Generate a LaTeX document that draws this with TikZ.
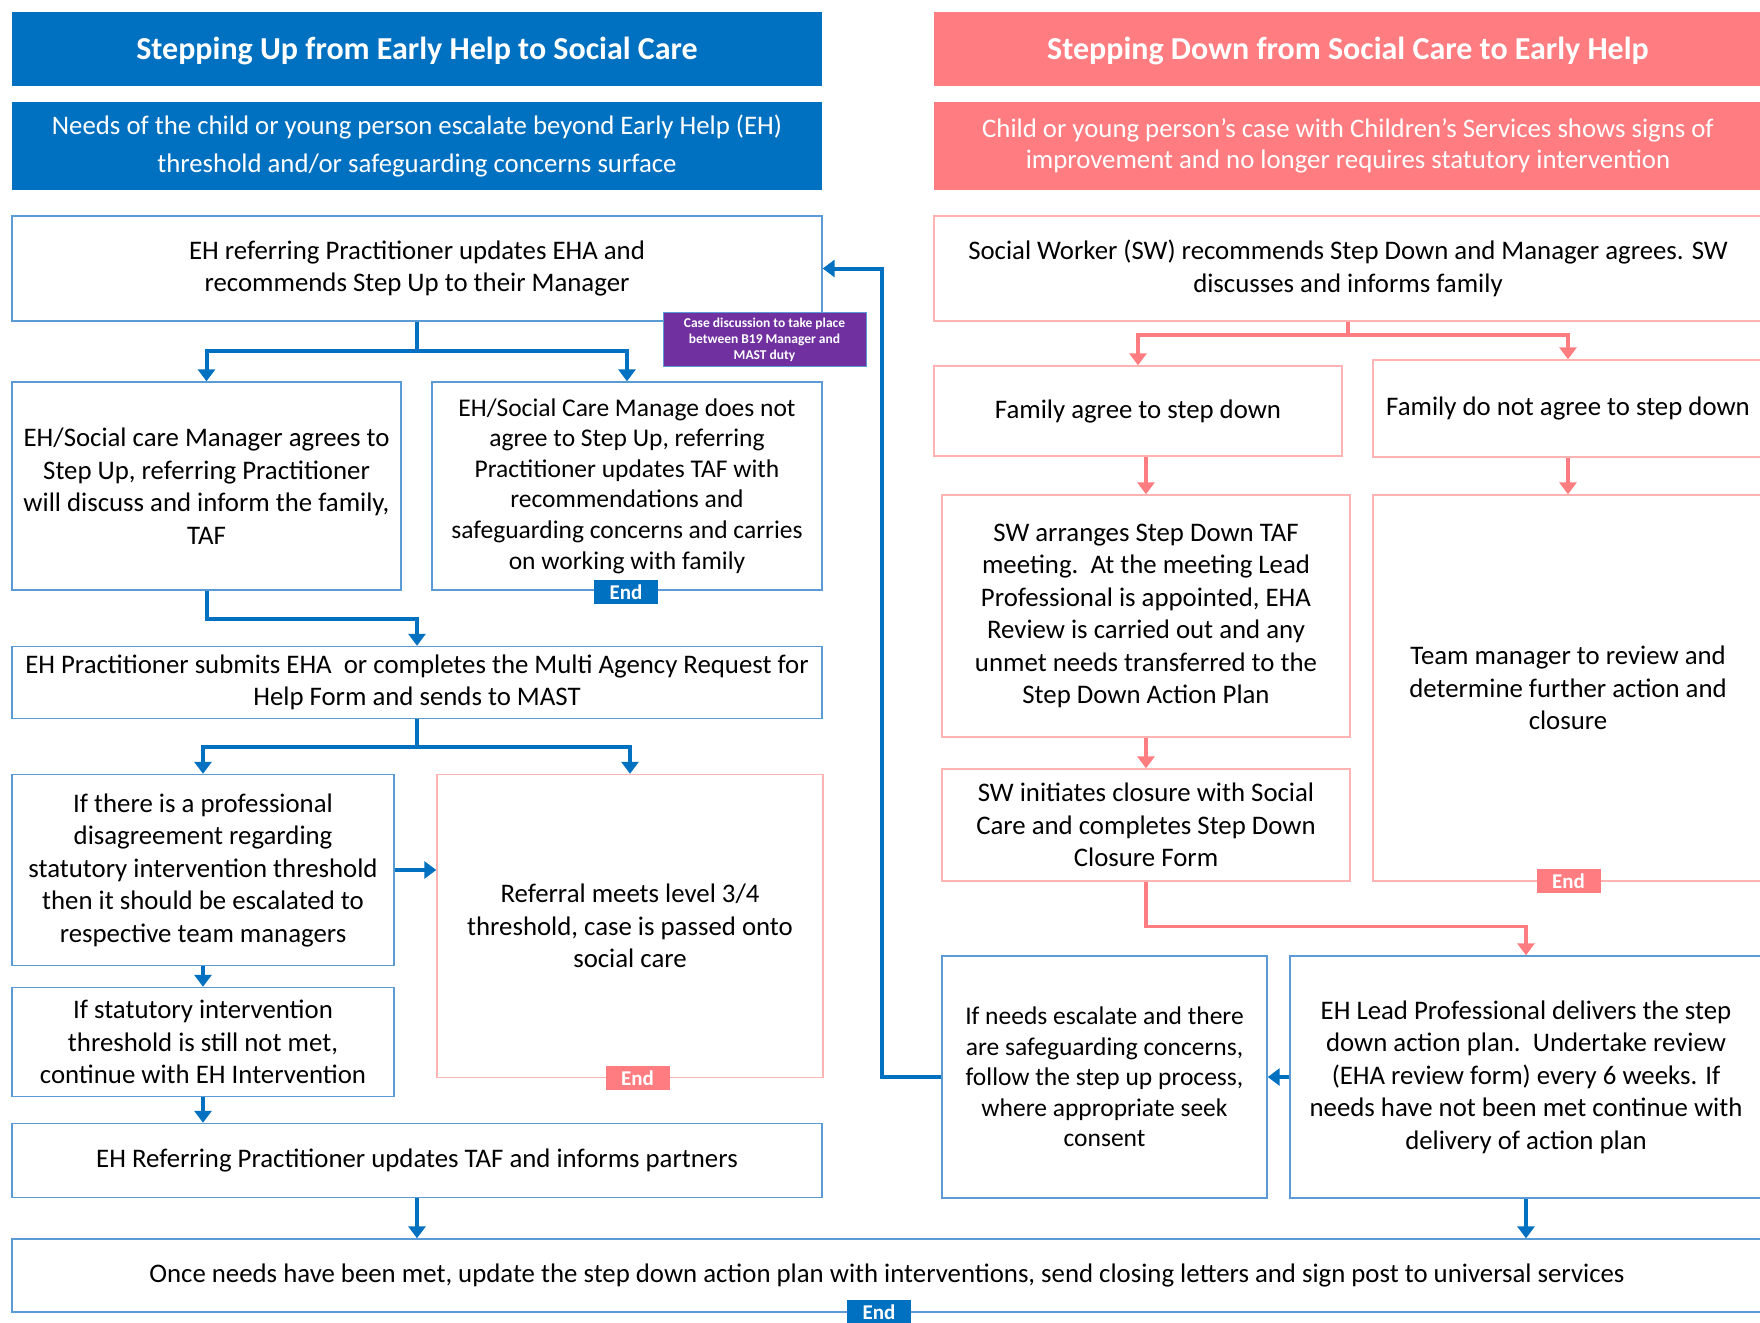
\documentclass[tikz,border=0pt]{standalone}
\usepackage{fontspec}
\setmainfont{Carlito}
\usetikzlibrary{arrows.meta}
\definecolor{tblue}{HTML}{0070C0}
\definecolor{tpink}{HTML}{FF7C80}
\definecolor{lblue}{HTML}{5B9BD5}
\definecolor{lpink}{HTML}{FFB3B3}
\definecolor{tpurple}{HTML}{7030A0}
\newcommand{\bodyfs}{\fontsize{26.8}{32.5}\selectfont}
\newcommand{\smallfs}{\fontsize{25.5}{30.6}\selectfont}
\newcommand{\ttl}[1]{\raisebox{-10pt}[0pt][0pt]{#1}}
\tikzset{
  box/.style={draw=lblue, line width=1.4pt, fill=white, align=center, inner sep=0pt, font=\bodyfs},
  pbox/.style={box, draw=lpink},
  titleb/.style={fill=tblue, text=white, align=center, inner sep=0pt, font=\fontsize{32}{38}\selectfont\bfseries},
  titlep/.style={titleb, fill=tpink},
  subb/.style={fill=tblue, text=white, align=center, inner sep=0pt, font=\fontsize{26.8}{37}\selectfont},
  subp/.style={subb, fill=tpink, font=\fontsize{26.8}{31.5}\selectfont},
  endb/.style={fill=tblue, text=white, inner sep=0pt, minimum width=64pt, minimum height=24pt, font=\fontsize{21}{22}\selectfont\bfseries},
  endp/.style={endb, fill=tpink},
  barr/.style={draw=tblue, line width=4pt, -{Triangle[width=17pt,length=12pt]}},
  parr/.style={draw=tpink, line width=3.5pt, -{Triangle[width=17pt,length=12pt]}},
}
\begin{document}
\begin{tikzpicture}[x=1pt,y=-1pt]
\useasboundingbox (0,0) rectangle (1760,1322);
% headers
\node[titleb, minimum width=810pt, minimum height=74pt] (tl) at (417,49) {\ttl{Stepping Up from Early Help to Social Care}};
\node[titlep, minimum width=828pt, minimum height=74pt] (tr) at (1348,49) {\ttl{Stepping Down from Social Care to Early Help}};
\node[subb, minimum width=810pt, minimum height=88pt] (sl) at (417,146) {Needs of the child or young person escalate beyond Early Help (EH)\\threshold and/or safeguarding concerns surface};
\node[subp, minimum width=828pt, minimum height=88pt] (sr) at (1348,146) {Child or young person’s case with Children’s Services shows signs of\\improvement and no longer requires statutory intervention};
% left column
\node[box, minimum width=810pt, minimum height=105pt] (A) at (417,268.5) {EH referring Practitioner updates EHA and\\recommends Step Up to their Manager};
\node[box, minimum width=389pt, minimum height=208pt] (B1) at (206.5,486) {EH/Social care Manager agrees to\\Step Up, referring Practitioner\\will discuss and inform the family,\\TAF};
\node[box, font=\smallfs, minimum width=390pt, minimum height=208pt] (B2) at (627,486) {EH/Social Care Manage does not\\agree to Step Up, referring\\Practitioner updates TAF with\\recommendations and\\safeguarding concerns and carries\\on working with family};
\node[endb] (e1) at (626,592) {End};
\node[box, minimum width=810pt, minimum height=72pt] (C) at (417,682.5) {EH Practitioner submits EHA\ \ or completes the Multi Agency Request for\\Help Form and sends to MAST};
\node[box, minimum width=382pt, minimum height=191pt] (D1) at (203,870) {If there is a professional\\disagreement regarding\\statutory intervention threshold\\then it should be escalated to\\respective team managers};
\node[pbox, minimum width=386pt, minimum height=303pt] (D2) at (630,926) {Referral meets level 3/4\\threshold, case is passed onto\\social care};
\node[endp] (e2) at (637.5,1078) {End};
\node[box, minimum width=382pt, minimum height=109pt] (E1) at (203,1042) {If statutory intervention\\threshold is still not met,\\continue with EH Intervention};
\node[box, minimum width=810pt, minimum height=74pt] (F) at (417,1160.5) {EH Referring Practitioner updates TAF and informs partners};
\node[box, minimum width=1750pt, minimum height=73pt] (G) at (887,1275.5) {Once needs have been met, update the step down action plan with interventions, send closing letters and sign post to universal services};
\node[endb] (e3) at (879,1312) {End};
% right column
\node[pbox, minimum width=828pt, minimum height=105pt] (R1) at (1348,268.5) {Social Worker (SW) recommends Step Down and Manager agrees. SW\\discusses and informs family};
\node[pbox, minimum width=408pt, minimum height=90pt] (R2a) at (1138,411) {Family agree to step down};
\node[pbox, minimum width=390pt, minimum height=97pt] (R2b) at (1568,408.5) {Family do not agree to step down};
\node[pbox, minimum width=408pt, minimum height=242pt] (R3a) at (1146,616) {SW arranges Step Down TAF\\meeting.\ \ At the meeting Lead\\Professional is appointed, EHA\\Review is carried out and any\\unmet needs transferred to the\\Step Down Action Plan};
\node[pbox, minimum width=390pt, minimum height=386pt] (R3b) at (1568,688) {Team manager to review and\\determine further action and\\closure};
\node[endp] (e4) at (1568.5,881) {End};
\node[pbox, minimum width=408pt, minimum height=112pt] (R4a) at (1146,825) {SW initiates closure with Social\\Care and completes Step Down\\Closure Form};
\node[box, font=\smallfs, minimum width=325pt, minimum height=242pt] (R5a) at (1104.5,1077) {If needs escalate and there\\are safeguarding concerns,\\follow the step up process,\\where appropriate seek\\consent};
\node[box, minimum width=472pt, minimum height=242pt] (R5b) at (1526,1077) {EH Lead Professional delivers the step\\down action plan.\ \ Undertake review\\(EHA review form) every 6 weeks. If\\needs have not been met continue with\\delivery of action plan};
% purple note
\node[draw=lblue, line width=1pt, fill=tpurple, text=white, align=center, inner sep=0pt, minimum width=203pt, minimum height=54pt, font=\fontsize{13.5}{16}\selectfont\bfseries] (P) at (764.5,339.5) {Case discussion to take place\\between B19 Manager and\\MAST duty};
% connectors left
\coordinate (lp) at (882,0);
\draw[barr] (A.south) -- ++(0,29) -| (B1.north);
\draw[barr] (A.south) -- ++(0,29) -| (B2.north);
\draw[barr] (B1.south) -- ++(0,28) -| (C.north);
\draw[barr] (C.south) -- ++(0,28) -| (D1.north);
\draw[barr] (C.south) -- ++(0,28) -| (D2.north);
\draw[barr] (D1.east) -- (D1.east -| D2.west);
\draw[barr] (D1.south) -- (E1.north);
\draw[barr] (E1.south) -- (E1.south |- F.north);
\draw[barr] (F.south) -- (F.south |- G.north);
% connectors right
\draw[parr] (R1.south) -- ++(0,13.5) -| (R2a.north);
\draw[parr] (R1.south) -- ++(0,13.5) -| (R2b.north);
\draw[parr] (R2a.south -| R3a.north) -- (R3a.north);
\draw[parr] (R2b.south) -- (R3b.north);
\draw[parr] (R3a.south) -- (R4a.north);
\draw[parr] (R4a.south) -- ++(0,45) -| (R5b.north);
\draw[barr] (R5b.west) -- (R5a.east);
\draw[barr] (R5b.south) -- (R5b.south |- G.north);
\draw[barr] (R5a.west) -| (lp |- A.east) -- (A.east);
\end{tikzpicture}
\end{document}
